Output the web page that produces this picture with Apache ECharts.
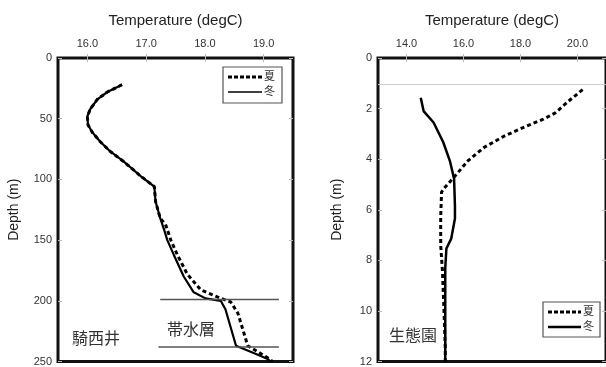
<!DOCTYPE html>
<html>
<head>
<meta charset="utf-8">
<script src="https://cdn.jsdelivr.net/npm/echarts@6/dist/echarts.min.js"></script>
<style>
  html, body { margin: 0; padding: 0; background: #fff; }
  #chart { width: 606px; height: 367px; }
</style>
</head>
<body>
<div id="chart"></div>
<script>
  // 騎西井 (left panel)
  var kisaiSummerDepth = [22, 28, 34, 42, 48, 55, 61, 69, 77, 85, 97, 106, 118, 132, 137, 150, 162, 178, 191, 197, 201, 210, 237, 247, 250];
  var kisaiSummerTemp = [16.59, 16.34, 16.17, 16.05, 16.0, 16.01, 16.08, 16.22, 16.39, 16.61, 16.9, 17.14, 17.16, 17.24, 17.33, 17.42, 17.53, 17.7, 17.93, 18.22, 18.44, 18.56, 18.73, 19.07, 19.15];
  var kisaiWinterDepth = [22, 28, 34, 42, 48, 55, 61, 69, 77, 85, 97, 106, 118, 132, 142, 150, 162, 180, 193, 198, 200, 207, 237, 243, 248, 250];
  var kisaiWinterTemp = [16.59, 16.34, 16.17, 16.05, 16.0, 16.01, 16.08, 16.22, 16.39, 16.61, 16.9, 17.14, 17.16, 17.24, 17.31, 17.36, 17.47, 17.64, 17.81, 18.01, 18.27, 18.35, 18.53, 18.83, 19.07, 19.12];
  var aquiferTop = 199;
  var aquiferBottom = 238;
  var aquiferTempRange = [17.24, 19.26];

  // 生態園 (right panel)
  var seitaiSummerDepth = [1.25, 1.72, 2.17, 2.43, 2.75, 3.1, 3.53, 4.07, 4.67, 5.1, 5.3, 6.3, 7.4, 8.4, 9.5, 10.5, 11.45, 12];
  var seitaiSummerTemp = [20.18, 19.67, 19.22, 18.78, 18.09, 17.41, 16.73, 16.15, 15.7, 15.36, 15.23, 15.2, 15.2, 15.26, 15.3, 15.33, 15.36, 15.36];
  var seitaiWinterDepth = [1.57, 2.1, 2.55, 3.33, 4.1, 4.78, 5.84, 6.35, 7.14, 7.53, 8.3, 9.5, 10.5, 12];
  var seitaiWinterTemp = [14.5, 14.6, 14.95, 15.29, 15.53, 15.67, 15.7, 15.7, 15.57, 15.4, 15.36, 15.36, 15.36, 15.36];
  var waterLevel = 1.05;

  var leftTicks = [16, 17, 18, 19];
  var rightTicks = [14, 16, 18, 20];

  function pairs(xs, ys) {
    var out = [];
    for (var i = 0; i < xs.length; i++) {
      out.push([xs[i], ys[i]]);
    }
    return out;
  }

  var FONT = 'Liberation Sans, Arial, sans-serif';
  var CJK = 'Noto Sans CJK JP, sans-serif';

  function xAxisPair(grid, min, max, ticks) {
    var top = {
      type: 'value', gridIndex: grid, position: 'top', min: min, max: max,
      name: 'Temperature (degC)', nameLocation: 'middle', nameGap: 30,
      nameTextStyle: { fontFamily: FONT, fontSize: 15, color: '#222' },
      axisLine: { show: false },
      axisTick: { show: true, inside: true, length: 4, customValues: ticks, lineStyle: { color: '#bbb' } },
      axisLabel: { customValues: ticks, margin: 9, fontFamily: FONT, fontSize: 11, color: '#333',
        formatter: function (v) { return v.toFixed(1); } },
      splitLine: { show: false }
    };
    var bottom = {
      type: 'value', gridIndex: grid, position: 'bottom', min: min, max: max,
      axisLine: { show: false },
      axisTick: { show: true, inside: true, length: 4, customValues: ticks, lineStyle: { color: '#bbb' } },
      axisLabel: { show: false },
      splitLine: { show: false }
    };
    return [top, bottom];
  }

  function yAxisPair(grid, max, interval, gap) {
    var left = {
      type: 'value', gridIndex: grid, inverse: true, min: 0, max: max, interval: interval,
      name: 'Depth (m)', nameLocation: 'middle', nameGap: gap, nameRotate: 90,
      nameTextStyle: { fontFamily: FONT, fontSize: 14, color: '#222' },
      axisLine: { show: false },
      axisTick: { show: true, inside: true, length: 4, lineStyle: { color: '#bbb' } },
      axisLabel: { margin: 6, fontFamily: FONT, fontSize: 11, color: '#333' },
      splitLine: { show: false }
    };
    var right = {
      type: 'value', gridIndex: grid, inverse: true, min: 0, max: max, interval: interval, position: 'right',
      axisLine: { show: false },
      axisTick: { show: true, inside: true, length: 4, lineStyle: { color: '#bbb' } },
      axisLabel: { show: false },
      splitLine: { show: false }
    };
    return [left, right];
  }

  var xs = xAxisPair(0, 15.5, 19.5, leftTicks).concat(xAxisPair(1, 13, 21, rightTicks));
  var ys = yAxisPair(0, 250, 50, 37).concat(yAxisPair(1, 12, 2, 34));

  var dashed = { color: '#000', width: 3, type: [4, 3] };
  var solid = { color: '#000', width: 2.2 };

  function line(name, xi, yi, data, style) {
    return {
      name: name, type: 'line', xAxisIndex: xi, yAxisIndex: yi, data: data,
      showSymbol: false, symbol: 'none', lineStyle: style, silent: true, z: 3
    };
  }

  var chart = echarts.init(document.getElementById('chart'));
  chart.setOption({
    animation: false,
    backgroundColor: '#fff',
    grid: [
      { left: 58, top: 58, width: 235, height: 307, show: true, borderColor: '#111', borderWidth: 3, backgroundColor: 'transparent' },
      { left: 378, top: 58, width: 235, height: 306, show: true, borderColor: '#111', borderWidth: 3, backgroundColor: 'transparent' }
    ],
    xAxis: xs,
    yAxis: ys,
    series: [
      line('夏', 0, 0, pairs(kisaiSummerTemp, kisaiSummerDepth), dashed),
      line('冬', 0, 0, pairs(kisaiWinterTemp, kisaiWinterDepth), solid),
      line('aq1', 0, 0, [[aquiferTempRange[0], aquiferTop], [aquiferTempRange[1], aquiferTop]], { color: '#555', width: 1.5 }),
      line('aq2', 0, 0, [[aquiferTempRange[0] - 0.03, aquiferBottom], [aquiferTempRange[1], aquiferBottom]], { color: '#555', width: 1.5 }),
      line('wl', 2, 2, [[13, waterLevel], [21, waterLevel]], { color: '#ccc', width: 1 }),
      line('夏', 2, 2, pairs(seitaiSummerTemp, seitaiSummerDepth), dashed),
      line('冬', 2, 2, pairs(seitaiWinterTemp, seitaiWinterDepth), { color: '#000', width: 2.5 })
    ],
    graphic: [
      { type: 'text', left: 72, top: 330, style: { text: '騎西井', font: '16px ' + CJK, fill: '#333' } },
      { type: 'text', left: 167, top: 321, style: { text: '帯水層', font: '16px ' + CJK, fill: '#333' } },
      { type: 'text', left: 389, top: 327, style: { text: '生態園', font: '16px ' + CJK, fill: '#333' } },
      // legend left
      { type: 'rect', shape: { x: 223, y: 67, width: 59, height: 36 }, style: { fill: '#fff', stroke: '#555', lineWidth: 1.2 }, z: 10 },
      { type: 'line', shape: { x1: 228, y1: 77, x2: 262, y2: 77 }, style: { stroke: '#000', lineWidth: 3, lineDash: [4, 2] }, z: 11 },
      { type: 'text', left: 264, top: 70, style: { text: '夏', font: '11px ' + CJK, fill: '#333' }, z: 11 },
      { type: 'line', shape: { x1: 228, y1: 92, x2: 262, y2: 92 }, style: { stroke: '#000', lineWidth: 1.5 }, z: 11 },
      { type: 'text', left: 264, top: 85, style: { text: '冬', font: '11px ' + CJK, fill: '#333' }, z: 11 },
      // legend right
      { type: 'rect', shape: { x: 543, y: 302, width: 57, height: 35 }, style: { fill: '#fff', stroke: '#555', lineWidth: 1.2 }, z: 10 },
      { type: 'line', shape: { x1: 548, y1: 312, x2: 581, y2: 312 }, style: { stroke: '#000', lineWidth: 3, lineDash: [4, 2] }, z: 11 },
      { type: 'text', left: 583, top: 305, style: { text: '夏', font: '11px ' + CJK, fill: '#333' }, z: 11 },
      { type: 'line', shape: { x1: 548, y1: 327, x2: 581, y2: 327 }, style: { stroke: '#000', lineWidth: 2.5 }, z: 11 },
      { type: 'text', left: 583, top: 320, style: { text: '冬', font: '11px ' + CJK, fill: '#333' }, z: 11 }
    ]
  });
</script>
</body>
</html>
